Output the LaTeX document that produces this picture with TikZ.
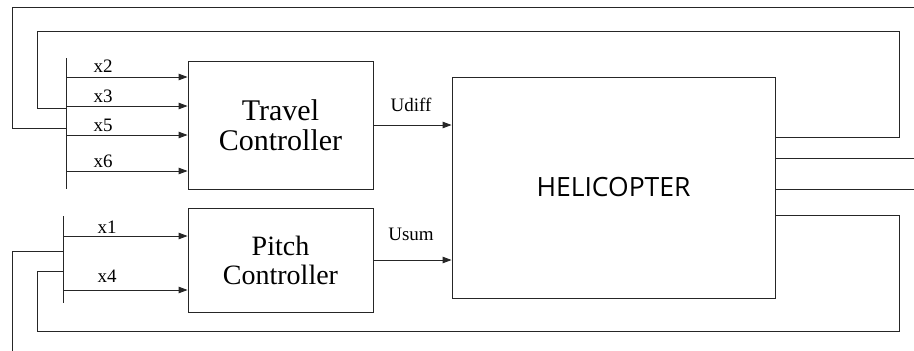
\documentclass[tikz,border=0pt]{standalone}
\usepackage{fontspec}
\setmainfont{Liberation Serif}
\newfontfamily\ctrlfont{Liberation Serif}
\newfontfamily\helifont{Open Sans}
\usetikzlibrary{arrows.meta}
\begin{document}
\begin{tikzpicture}[x=1pt,y=-1pt,
  line/.style={draw=black!85,line width=0.9pt},
  arr/.style={line,-{Triangle[length=9pt,width=6.5pt]}},
  ctrl/.style={line,rectangle,inner sep=0pt,align=center,font=\ctrlfont\fontsize{30}{30}\selectfont},
  lab/.style={anchor=base,inner sep=0pt,font=\ctrlfont\fontsize{19}{19}\selectfont}]
\useasboundingbox (0,0) rectangle (914,351);
% blocks
\node[ctrl,minimum width=185pt,minimum height=128pt] (T) at (280.5,125) {Travel\\Controller};
\node[ctrl,minimum width=185pt,minimum height=104pt,font=\ctrlfont\fontsize{28}{29}\selectfont] (P) at (280.5,260) {Pitch\\Controller};
\node[line,rectangle,inner sep=0pt,minimum width=323pt,minimum height=221pt,font=\helifont\fontsize{26.5}{26.5}\selectfont] (H) at (613.5,187.5) {HELICOPTER};
% buses
\coordinate (tb1) at (66,58); \coordinate (tb2) at (66,189);
\coordinate (pb1) at (63,216); \coordinate (pb2) at (63,303);
\draw[line] (tb1) -- (tb2);
\draw[line] (pb1) -- (pb2);
% travel inputs
\foreach \yy/\nm in {77/x2,106/x3,135/x5,171/x6}{
  \coordinate (s\nm) at (tb1 |- 0,\yy);
  \draw[arr] (s\nm) -- (T.west |- s\nm);
}
\node[lab] (lx2) at (103,72) {x2};
\node[lab] (lx3) at (103,102) {x3};
\node[lab] (lx5) at (103,131) {x5};
\node[lab] (lx6) at (103,167) {x6};
% pitch inputs
\foreach \yy/\nm in {236/x1,290/x4}{
  \coordinate (s\nm) at (pb1 |- 0,\yy);
  \draw[arr] (s\nm) -- (P.west |- s\nm);
}
\node[lab] (lx1) at (107,233) {x1};
\node[lab] (lx4) at (107,282) {x4};
% controller outputs
\draw[arr] (T.east) -- (H.west |- T.east);
\draw[arr] (P.east) -- (H.west |- P.east);
\node[lab] (lud) at (411,111) {Udiff};
\node[lab] (lus) at (411,240) {Usum};
% helicopter outputs and feedback
\coordinate (o1) at (H.east |- 0,137);
\coordinate (o2) at (H.east |- 0,158);
\coordinate (o3) at (H.east |- 0,189);
\coordinate (o4) at (H.east |- 0,215);
\coordinate (e2) at (914,158);
\coordinate (e3) at (914,189);
\coordinate (top) at (914,7);
\coordinate (bot) at (12,351);
\draw[line] (o1) -- (899,137) -- (899,31) -- (37,31) -- (37,108) -- (tb1 |- 0,108);
\draw[line] (tb1 |- 0,128) -- (12,128) -- (12,7) -- (top);
\draw[line] (o2) -- (e2);
\draw[line] (o3) -- (e3);
\draw[line] (o4) -- (899,215) -- (899,331) -- (37,331) -- (37,271) -- (pb1 |- 0,271);
\draw[line] (pb1 |- 0,251) -- (12,251) -- (bot);
\end{tikzpicture}
\end{document}
